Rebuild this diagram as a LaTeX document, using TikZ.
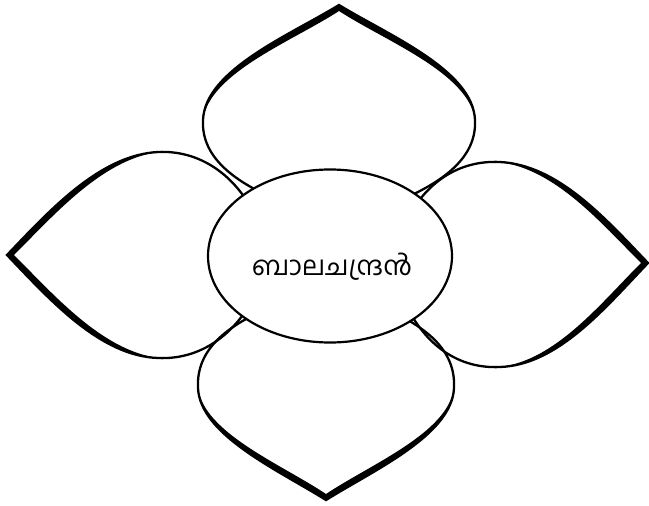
\documentclass[tikz,border=0pt]{standalone}
\usepackage{fontspec}
\newfontfamily\malfont[Script=Malayalam]{Hind Kochi}
\usetikzlibrary{shapes.geometric}

\begin{document}
\begin{tikzpicture}[
    x=1pt, y=-1pt,
    petal/.style={draw, line width=2.3pt, line join=miter},
    petaltip/.style={fill=black},
    centre/.style={ellipse, draw, fill=white, line width=2.2pt, minimum width=244pt, minimum height=173pt, inner sep=0pt},
    nametext/.style={font=\malfont\fontsize{26.5}{30}\selectfont}
]
\useasboundingbox (0,0) rectangle (649,506);

% top petal
\draw[petal] (289,205) .. controls (239,185) and (201,160) .. (203,120)
    .. controls (205,70) and (290,35) .. (339,5)
    .. controls (388,35) and (473,70) .. (475,120)
    .. controls (477,160) and (439,185) .. (389,205);
\fill[petaltip] (203,120) .. controls (205,70) and (290,35) .. (339,5)
    .. controls (388,35) and (473,70) .. (475,120)
    .. controls (469,73) and (385,41) .. (339,11)
    .. controls (293,41) and (209,73) .. (203,120) -- cycle;

% bottom petal
\draw[petal] (276,305) .. controls (226,325) and (196,350) .. (198,388)
    .. controls (200,435) and (278,470) .. (326,500)
    .. controls (374,470) and (452,435) .. (454,388)
    .. controls (456,350) and (426,325) .. (376,305);
\fill[petaltip] (198,388) .. controls (200,435) and (278,470) .. (326,500)
    .. controls (374,470) and (452,435) .. (454,388)
    .. controls (448,433) and (371,464) .. (326,494)
    .. controls (281,464) and (204,433) .. (198,388) -- cycle;

% left petal
\draw[petal] (255,215) .. controls (235,175) and (200,150) .. (158,152)
    .. controls (100,155) and (50,210) .. (7,255)
    .. controls (50,300) and (100,356) .. (158,358)
    .. controls (200,360) and (235,335) .. (255,295);
\fill[petaltip] (158,152) .. controls (100,155) and (50,210) .. (7,255)
    .. controls (50,300) and (100,356) .. (158,358)
    .. controls (102,350) and (55,296) .. (14,255)
    .. controls (55,214) and (102,160) .. (158,152) -- cycle;

% right petal
\draw[petal] (405,223) .. controls (425,183) and (458,160) .. (500,162)
    .. controls (558,165) and (605,218) .. (648,263)
    .. controls (605,308) and (558,365) .. (500,367)
    .. controls (458,369) and (425,345) .. (405,303);
\fill[petaltip] (500,162) .. controls (558,165) and (605,218) .. (648,263)
    .. controls (605,308) and (558,365) .. (500,367)
    .. controls (556,360) and (600,304) .. (641,263)
    .. controls (600,222) and (556,170) .. (500,162) -- cycle;

% centre
\node[centre] (middle) at (330,256) {};
\node[nametext] (boy) at (332,267) {ബാലചന്ദ്രൻ};

\end{tikzpicture}
\end{document}
